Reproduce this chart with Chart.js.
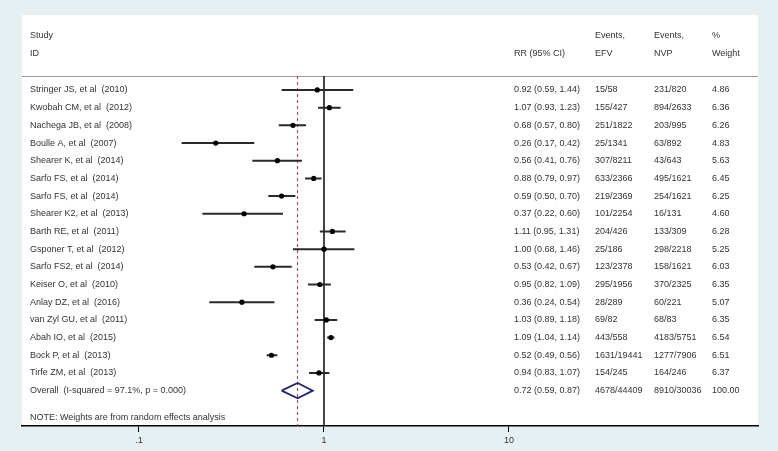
<!DOCTYPE html>
<html>
<head>
<meta charset="utf-8">
<script src="https://cdn.jsdelivr.net/npm/chart.js@4/dist/chart.umd.min.js"></script>
<style>
  body { margin: 0; background: #e6eff1; }
  canvas { display: block; }
</style>
</head>
<body>
<canvas id="forest" width="778" height="451"></canvas>
<script>
// study rows, top to bottom
const studies = ['Stringer JS, et al  (2010)', 'Kwobah CM, et al  (2012)', 'Nachega JB, et al  (2008)',
  'Boulle A, et al  (2007)', 'Shearer K, et al  (2014)', 'Sarfo FS, et al  (2014)', 'Sarfo FS, et al  (2014)',
  'Shearer K2, et al  (2013)', 'Barth RE, et al  (2011)', 'Gsponer T, et al  (2012)', 'Sarfo FS2, et al  (2014)',
  'Keiser O, et al  (2010)', 'Anlay DZ, et al  (2016)', 'van Zyl GU, et al  (2011)', 'Abah IO, et al  (2015)',
  'Bock P, et al  (2013)', 'Tirfe ZM, et al  (2013)'];
const rr = [0.92, 1.07, 0.68, 0.26, 0.56, 0.88, 0.59, 0.37, 1.11, 1.00, 0.53, 0.95, 0.36, 1.03, 1.09, 0.52, 0.94];
const ciLow = [0.59, 0.93, 0.57, 0.17, 0.41, 0.79, 0.50, 0.22, 0.95, 0.68, 0.42, 0.82, 0.24, 0.89, 1.04, 0.49, 0.83];
const ciHigh = [1.44, 1.23, 0.80, 0.42, 0.76, 0.97, 0.70, 0.60, 1.31, 1.46, 0.67, 1.09, 0.54, 1.18, 1.14, 0.56, 1.07];
const eventsEFV = ['15/58', '155/427', '251/1822', '25/1341', '307/8211', '633/2366', '219/2369', '101/2254',
  '204/426', '25/186', '123/2378', '295/1956', '28/289', '69/82', '443/558', '1631/19441', '154/245'];
const eventsNVP = ['231/820', '894/2633', '203/995', '63/892', '43/643', '495/1621', '254/1621', '16/131',
  '133/309', '298/2218', '158/1621', '370/2325', '60/221', '68/83', '4183/5751', '1277/7906', '164/246'];
const weights = ['4.86', '6.36', '6.26', '4.83', '5.63', '6.45', '6.25', '4.60', '6.28', '5.25', '6.03',
  '6.35', '5.07', '6.35', '6.54', '6.51', '6.37'];

const overallRR = 0.72, overallLow = 0.59, overallHigh = 0.87;
const overallEFV = '4678/44409', overallNVP = '8910/30036', overallWeight = '100.00';
const overallLabel = 'Overall  (I-squared = 97.1%, p = 0.000)';
const noteLabel = 'NOTE: Weights are from random effects analysis';

const xTicks = [0.1, 1, 10];
const xTickLabels = ['.1', '1', '10'];

const overallRow = studies.length;
const rowMin = -0.79, rowMax = 19.0;

const f2 = v => v.toFixed(2);

const ciData = [];
studies.forEach((s, i) => {
  ciData.push({x: ciLow[i], y: i}, {x: ciHigh[i], y: i}, {x: ciHigh[i], y: null});
});
const pointData = rr.map((v, i) => ({x: v, y: i}));
const dh = 0.435;
const diamond = [
  {x: overallLow, y: overallRow}, {x: overallRR, y: overallRow - dh},
  {x: overallHigh, y: overallRow}, {x: overallRR, y: overallRow + dh},
  {x: overallLow, y: overallRow}
];

const FONT = '9px "Liberation Sans", Arial, sans-serif';
const TXT = '#333';
const colX = {study: 30, rr: 514, efv: 595, nvp: 654, w: 712};

const tablePlugin = {
  id: 'table',
  beforeDraw(chart) {
    const {ctx, chartArea: a} = chart;
    ctx.save();
    ctx.fillStyle = '#e6eff1';
    ctx.fillRect(0, 0, chart.width, chart.height);
    ctx.fillStyle = '#fff';
    ctx.fillRect(a.left, 15, a.right - a.left, a.bottom - 15);
    // header rule
    ctx.strokeStyle = '#9a9a9a';
    ctx.lineWidth = 1;
    ctx.beginPath();
    ctx.moveTo(a.left, a.top + 0.5);
    ctx.lineTo(a.right, a.top + 0.5);
    ctx.stroke();
    ctx.restore();
  },
  afterDraw(chart) {
    const {ctx} = chart;
    const y = chart.scales.y;
    ctx.save();
    ctx.font = FONT;
    ctx.fillStyle = TXT;
    ctx.textBaseline = 'middle';
    // header
    ctx.fillText('Study', colX.study, 36);
    ctx.fillText('ID', colX.study, 54);
    ctx.fillText('RR (95% CI)', colX.rr, 54);
    ctx.fillText('Events,', colX.efv, 36);
    ctx.fillText('EFV', colX.efv, 54);
    ctx.fillText('Events,', colX.nvp, 36);
    ctx.fillText('NVP', colX.nvp, 54);
    ctx.fillText('%', colX.w, 36);
    ctx.fillText('Weight', colX.w, 54);
    studies.forEach((s, i) => {
      const py = y.getPixelForValue(i);
      ctx.fillText(s, colX.study, py);
      ctx.fillText(f2(rr[i]) + ' (' + f2(ciLow[i]) + ', ' + f2(ciHigh[i]) + ')', colX.rr, py);
      ctx.fillText(eventsEFV[i], colX.efv, py);
      ctx.fillText(eventsNVP[i], colX.nvp, py);
      ctx.fillText(weights[i], colX.w, py);
    });
    const oy = y.getPixelForValue(overallRow);
    ctx.fillText(overallLabel, colX.study, oy);
    ctx.fillText(f2(overallRR) + ' (' + f2(overallLow) + ', ' + f2(overallHigh) + ')', colX.rr, oy);
    ctx.fillText(overallEFV, colX.efv, oy);
    ctx.fillText(overallNVP, colX.nvp, oy);
    ctx.fillText(overallWeight, colX.w, oy);
    ctx.fillText(noteLabel, colX.study, y.getPixelForValue(overallRow + 1.5));
    ctx.restore();
  }
};

new Chart(document.getElementById('forest'), {
  type: 'scatter',
  data: {
    datasets: [
      {data: pointData, pointRadius: 2.6, pointBackgroundColor: '#000', pointBorderWidth: 0, order: 0},
      {data: ciData, showLine: true, spanGaps: false, borderColor: '#2a2a2a', borderWidth: 2, pointRadius: 0, order: 1},
      {data: diamond, showLine: true, borderColor: '#24246e', borderWidth: 1.8, pointRadius: 0, order: 1},
      {data: [{x: 1, y: rowMin}, {x: 1, y: rowMax}], showLine: true, borderColor: '#1a1a1a', borderWidth: 1.6, pointRadius: 0, order: 2},
      {data: [{x: overallRR, y: rowMin}, {x: overallRR, y: rowMax}], showLine: true, borderColor: '#b8303e',
        borderWidth: 1, borderDash: [3, 3], pointRadius: 0, order: 2}
    ]
  },
  options: {
    responsive: false,
    devicePixelRatio: 1,
    animation: false,
    layout: {padding: {left: 22, right: 20, top: 76, bottom: 0}},
    plugins: {legend: {display: false}, tooltip: {enabled: false}},
    scales: {
      x: {
        type: 'logarithmic',
        min: 0.02332,
        max: 221.8,
        afterBuildTicks: s => { s.ticks = xTicks.map(v => ({value: v})); },
        afterFit: s => { s.height = 25; },
        ticks: {
          autoSkip: false, maxRotation: 0, padding: 3, color: TXT,
          font: {family: '"Liberation Sans", Arial, sans-serif', size: 9},
          callback: (v, i) => xTickLabels[i]
        },
        grid: {drawOnChartArea: false, tickLength: 6, color: '#000', lineWidth: 1},
        border: {color: '#000', width: 1.5}
      },
      y: {
        type: 'linear',
        display: false,
        reverse: true,
        min: rowMin,
        max: rowMax
      }
    }
  },
  plugins: [tablePlugin]
});
</script>
</body>
</html>
